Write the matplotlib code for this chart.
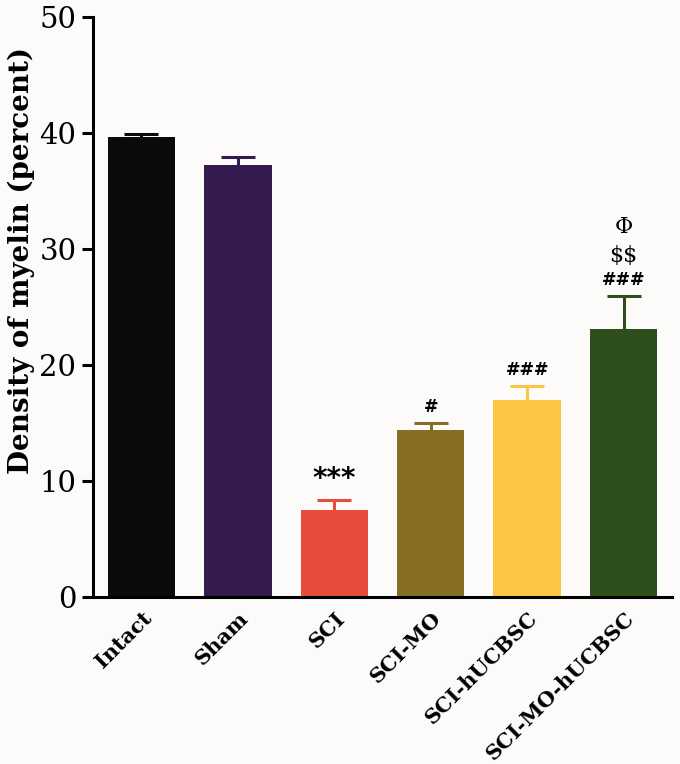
import matplotlib
matplotlib.use("Agg")
import matplotlib.pyplot as plt

plt.rcParams["text.parse_math"] = False

categories = ["Intact", "Sham", "SCI", "SCI-MO", "SCI-hUCBSC", "SCI-MO-hUCBSC"]
values = [39.6, 37.2, 7.5, 14.4, 17.0, 23.1]
errors = [0.3, 0.7, 0.8, 0.6, 1.2, 2.8]
colors = ["#0a0a0a", "#341a4e", "#e84c3a", "#876e22", "#fcc643", "#2e4e1c"]
yticks = [0, 10, 20, 30, 40, 50]
annotations = [[], [], ["***"], ["#"], ["###"], ["###", "$$", "Φ"]]

bg = "#fcfbfa"
fig = plt.figure(figsize=(6.8, 7.64), dpi=100, facecolor=bg)
ax = fig.add_axes([0.137, 0.219, 0.851, 0.759], facecolor=bg)

x = list(range(len(categories)))
for i in x:
    ax.bar(i, values[i], width=0.7, color=colors[i], zorder=2)
    ax.errorbar(i, values[i], yerr=errors[i], fmt="none", ecolor=colors[i],
                elinewidth=2.2, capsize=12, capthick=2.2, zorder=1)

offsets = [5, 21, 42]
for i, labs in enumerate(annotations):
    top = values[i] + errors[i]
    for k, t in enumerate(labs):
        if t in ("$$", "Φ"):
            fam, fw, fs = "DejaVu Serif", "normal", 16
        elif t == "***":
            fam, fw, fs = "DejaVu Sans", "bold", 20
        else:
            fam, fw, fs = "DejaVu Sans", "bold", 12.5
        ax.annotate(t, (i, top), xytext=(0, offsets[k]), textcoords="offset points",
                    ha="center", va="bottom", fontsize=fs, family=fam, fontweight=fw,
                    parse_math=False)

ax.set_xlim(-0.5, 5.5)
ax.set_ylim(0, 50)
ax.set_yticks(yticks)
ax.set_yticklabels([str(v) for v in yticks], fontsize=21, family="DejaVu Serif")
ax.set_xticks(x)
ax.set_xticklabels(categories, rotation=45, ha="right", rotation_mode="anchor",
                   fontsize=15, fontweight="bold", family="DejaVu Serif")
ax.tick_params(axis="x", length=0, pad=8)
ax.tick_params(axis="y", length=8, width=2.2, direction="out", pad=4)
for s in ["top", "right"]:
    ax.spines[s].set_visible(False)
for s in ["left", "bottom"]:
    ax.spines[s].set_linewidth(2.2)
ax.set_ylabel("Density of myelin (percent)", fontsize=20, fontweight="bold",
              family="DejaVu Serif")
ax.yaxis.set_label_coords(-0.1, 0.58)

fig.savefig("out.png", dpi=100, facecolor=bg)
